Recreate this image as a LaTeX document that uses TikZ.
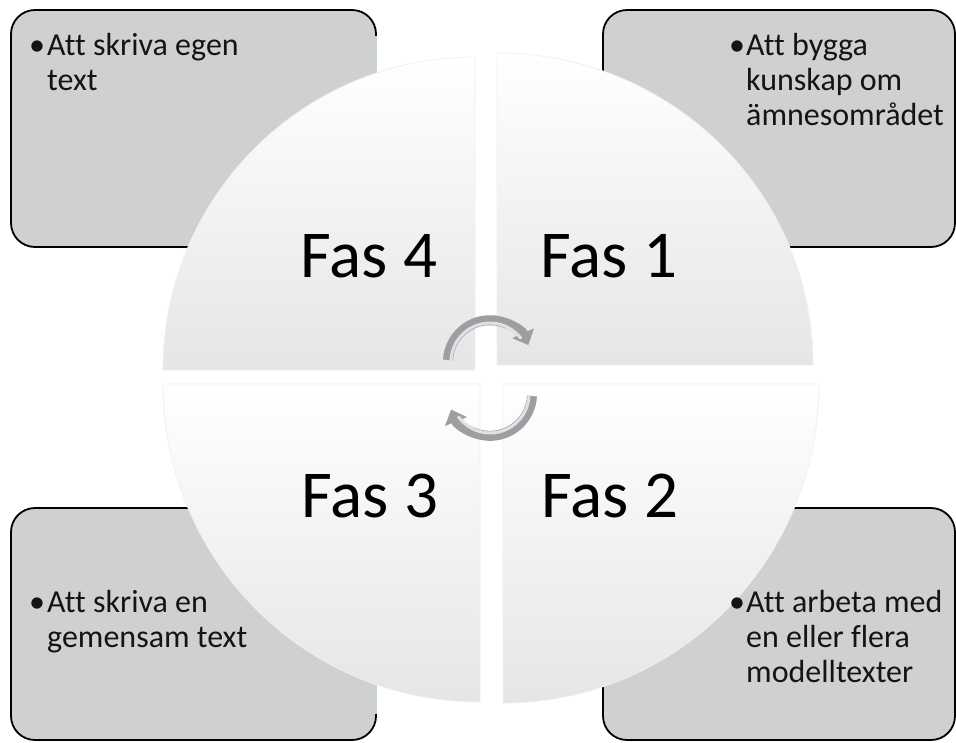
\documentclass[tikz,border=0pt]{standalone}
\usepackage{fontspec}
\setmainfont{Carlito}[Ligatures=NoCommon]
\usetikzlibrary{arrows.meta}
\definecolor{boxgray}{RGB}{208,208,208}
\definecolor{arrowgray}{RGB}{158,158,160}
\definecolor{arrowlight}{RGB}{222,226,230}
\definecolor{edgelight}{RGB}{196,214,220}
\begin{document}
\begin{tikzpicture}[x=1pt,y=-1pt,
  infobox/.style={draw=black, line width=1.8pt, fill=boxgray, rounded corners=24pt,
    inner sep=0pt, outer sep=0pt},
  quad/.style={draw=black!6, line width=0.8pt, top color=white, middle color=white, bottom color=black!10},
  fastext/.style={anchor=base, font=\fontsize{67}{80}\selectfont, inner sep=0pt},
  bullettext/.style={anchor=base west, font=\fontsize{32}{35}\selectfont, inner sep=0pt, text=black!92},
  cyclearrow/.style={line width=10pt, draw=arrowgray, -{Triangle[length=13pt,width=23pt]}},
  arrowshine/.style={line width=3pt, draw=arrowlight, line cap=round},
  lightedge/.style={draw=edgelight, line width=2.2pt},
]
\useasboundingbox (0,0) rectangle (956,742);
\fill[white] (0,0) rectangle (956,742);

% corner boxes
\node[infobox, minimum width=365pt, minimum height=237pt] (tl) at (193.5,128.5) {};
\node[infobox, minimum width=352pt, minimum height=237pt] (tr) at (779,128.5) {};
\node[infobox, minimum width=365pt, minimum height=232pt] (bl) at (193.5,624) {};
\node[infobox, minimum width=352pt, minimum height=232pt] (br) at (779,624) {};
\draw[lightedge] ([yshift=-26pt]tl.north east) -- ([yshift=26pt]tl.south east);
\draw[lightedge] ([yshift=-26pt]bl.north east) -- ([yshift=26pt]bl.south east);

% quadrants
\path[quad] (497,365) -- (813,365) arc[start angle=0, end angle=-90, x radius=316, y radius=312] -- cycle;
\path[quad] (475,370) -- (475,57) arc[start angle=-90, end angle=-180, x radius=312, y radius=313] -- cycle;
\path[quad] (480,384) -- (163,384) arc[start angle=180, end angle=90, x radius=317, y radius=318] -- cycle;
\path[quad] (503,384) -- (503,703) arc[start angle=90, end angle=0, x radius=316, y radius=319] -- cycle;

% phase labels
\node[fastext] (f4) at (369,277) {Fas 4};
\node[fastext] (f1) at (609,277) {Fas 1};
\node[fastext] (f3) at (370,517) {Fas 3};
\node[fastext] (f2) at (610,517) {Fas 2};

% box texts
\node[bullettext] (t4) at (29,55) {\begin{tabular}[t]{@{}l@{}l@{}}\makebox[18pt][l]{•}&Att skriva egen\\&text\end{tabular}};
\node[bullettext] (t1) at (729,55) {\begin{tabular}[t]{@{}l@{}l@{}}\makebox[17pt][l]{•}&Att bygga\\&kunskap om\\&ämnesområdet\end{tabular}};
\node[bullettext] (t3) at (29,612) {\begin{tabular}[t]{@{}l@{}l@{}}\makebox[18pt][l]{•}&Att skriva en\\&gemensam text\end{tabular}};
\node[bullettext] (t2) at (729,612) {\begin{tabular}[t]{@{}l@{}l@{}}\makebox[17pt][l]{•}&Att arbeta med\\&en eller flera\\&modelltexter\end{tabular}};

% cycle arrows
\coordinate (atop) at (448,360);
\coordinate (abot) at (532,396);
\draw[cyclearrow] (atop) arc[start angle=183, end angle=336, radius=42];
\draw[arrowshine] ([shift={(3,0)}]atop) arc[start angle=183, end angle=322, radius=39];
\draw[cyclearrow] (abot) arc[start angle=3, end angle=158, radius=42];
\draw[arrowshine] ([shift={(-3,0)}]abot) arc[start angle=3, end angle=144, radius=39];
\end{tikzpicture}
\end{document}
